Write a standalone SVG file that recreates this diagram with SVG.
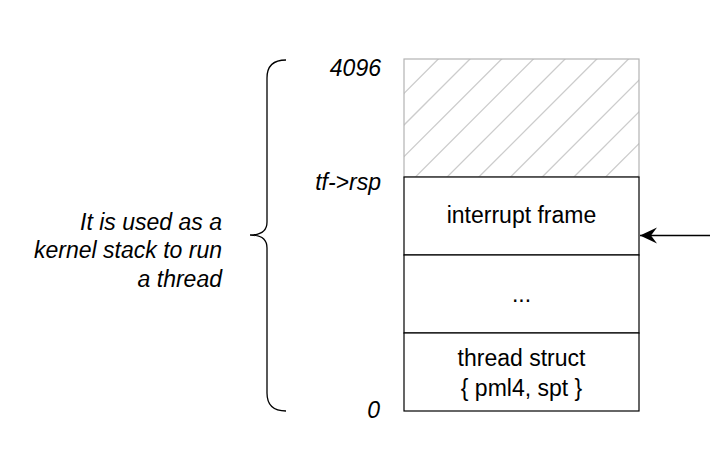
<svg xmlns="http://www.w3.org/2000/svg" width="710" height="476" viewBox="0 0 710 476">
<style>
text{font-family:"Liberation Sans",Arial,Helvetica,sans-serif;font-size:23px;fill:#000}
.it{font-style:italic}
.box{fill:#fff;stroke:#000;stroke-width:1.2}
.hatch{stroke:#cccccc;stroke-width:1.3}
</style>
<defs>
<clipPath id="hc"><rect x="404" y="59" width="235" height="118"/></clipPath>
<marker id="ah" markerWidth="18" markerHeight="18" refX="17" refY="8" orient="auto" markerUnits="userSpaceOnUse">
<path d="M17,8 L0,0 L6,8 L0,16 Z" fill="#000"/>
</marker>
</defs>
<rect width="710" height="476" fill="#fff"/>
<g id="unused-area">
<rect x="404" y="59" width="235" height="118" fill="#fff"/>
<g clip-path="url(#hc)" class="hatch">
<line x1="297.3" y1="200" x2="497.3" y2="0"/>
<line x1="329" y1="200" x2="529" y2="0"/>
<line x1="360.7" y1="200" x2="560.7" y2="0"/>
<line x1="392.4" y1="200" x2="592.4" y2="0"/>
<line x1="424.1" y1="200" x2="624.1" y2="0"/>
<line x1="455.8" y1="200" x2="655.8" y2="0"/>
<line x1="487.5" y1="200" x2="687.5" y2="0"/>
<line x1="519.2" y1="200" x2="719.2" y2="0"/>
<line x1="550.9" y1="200" x2="750.9" y2="0"/>
<line x1="582.6" y1="200" x2="782.6" y2="0"/>
<line x1="614.3" y1="200" x2="814.3" y2="0"/>
</g>
<rect x="404" y="59" width="235" height="118" fill="none" stroke="#b3b3b3" stroke-width="1.2"/>
</g>
<g id="interrupt-frame">
<rect class="box" x="404" y="177" width="235" height="78"/>
<text x="521.5" y="223" text-anchor="middle">interrupt frame</text>
</g>
<g id="ellipsis">
<rect class="box" x="404" y="255" width="235" height="78"/>
<text x="521.5" y="302" text-anchor="middle">...</text>
</g>
<g id="thread-struct">
<rect class="box" x="404" y="333" width="235" height="78"/>
<text x="521.5" y="366" text-anchor="middle">thread struct</text>
<text x="521.5" y="396" text-anchor="middle">{ pml4, spt }</text>
</g>
<g id="labels">
<text class="it" x="381" y="76" text-anchor="end">4096</text>
<text class="it" x="381" y="190" text-anchor="end">tf-&gt;rsp</text>
<text class="it" x="380" y="418" text-anchor="end">0</text>
</g>
<g id="brace">
<path d="M286,60 Q267,60 267,78 L267,222 Q267,235 250,235 Q267,235 267,248 L267,393 Q267,411 286,411" fill="none" stroke="#000" stroke-width="1.3"/>
</g>
<g id="description">
<text class="it" x="222" y="230" text-anchor="end">It is used as a</text>
<text class="it" x="222" y="258" text-anchor="end">kernel stack to run</text>
<text class="it" x="222" y="287" text-anchor="end">a thread</text>
</g>
<g id="connectors">
<line x1="710" y1="235.5" x2="640" y2="235.5" stroke="#000" stroke-width="1.3" marker-end="url(#ah)"/>
</g>
</svg>
